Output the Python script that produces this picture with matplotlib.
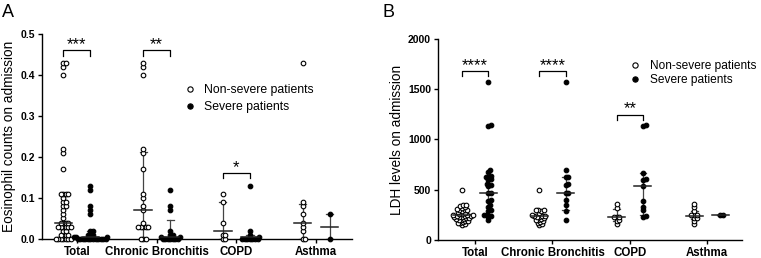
import numpy as np
import matplotlib.pyplot as plt
from matplotlib.lines import Line2D

plt.rcParams['font.family'] = ['Liberation Sans', 'DejaVu Sans']

categories = ['Total', 'Chronic Bronchitis', 'COPD', 'Asthma']

# Eosinophil counts (panel A)
eos_nonsevere = [
    [0.43, 0.43, 0.42, 0.40, 0.22, 0.21, 0.17, 0.11, 0.11, 0.11, 0.11, 0.10, 0.09, 0.09,
     0.08, 0.08, 0.07, 0.06, 0.05, 0.04, 0.04, 0.04, 0.04, 0.03, 0.03, 0.03, 0.03, 0.03,
     0.03, 0.02, 0.02, 0.01, 0.01, 0.01, 0.01, 0, 0, 0, 0, 0, 0, 0],
    [0.43, 0.42, 0.40, 0.22, 0.21, 0.17, 0.11, 0.10, 0.08, 0.07, 0.04, 0.03, 0.03, 0.03,
     0.03, 0.03, 0, 0, 0],
    [0.11, 0.09, 0.04, 0.01, 0.01, 0, 0],
    [0.43, 0.09, 0.08, 0.06, 0.04, 0.03, 0.02, 0, 0],
]
eos_severe = [
    [0.13, 0.12, 0.08, 0.07, 0.06, 0.02, 0.02, 0.01, 0.01, 0.01, 0.005, 0.005, 0.005,
     0, 0, 0, 0, 0, 0, 0, 0, 0, 0, 0, 0],
    [0.12, 0.08, 0.07, 0.02, 0.01, 0.01, 0.005, 0.005, 0, 0, 0, 0, 0, 0, 0],
    [0.13, 0.02, 0.01, 0.005, 0, 0, 0, 0, 0, 0, 0],
    [0.06, 0],
]
eos_med_ns = [0.04, 0.07, 0.02, 0.04]
eos_q1_ns = [0, 0, 0, 0]
eos_q3_ns = [0.11, 0.213, 0.09, 0.085]
eos_med_s = [0.005, 0.005, 0.005, 0.03]
eos_q1_s = [0, 0, 0, 0]
eos_q3_s = [0.02, 0.045, 0.01, 0.06]

# LDH levels (panel B)
ldh_nonsevere = [
    [500, 350, 350, 340, 330, 320, 310, 300, 300, 300, 290, 280, 270, 260, 260, 250, 250,
     250, 240, 240, 240, 230, 230, 230, 220, 220, 210, 210, 200, 200, 190, 190, 180, 170,
     170, 160, 150],
    [500, 300, 300, 300, 290, 270, 250, 240, 240, 240, 230, 230, 220, 210, 200, 200, 190,
     180, 170, 160, 150],
    [358, 321, 232, 232, 232, 195, 190, 160],
    [358, 325, 292, 249, 249, 249, 216, 216, 192, 159],
]
ldh_severe = [
    [1570, 1140, 1130, 700, 680, 640, 630, 630, 610, 600, 560, 550, 540, 470, 470, 400,
     390, 350, 330, 300, 290, 250, 250, 240, 230, 195],
    [1570, 700, 630, 630, 560, 550, 470, 470, 400, 350, 290, 195],
    [1140, 1130, 670, 610, 600, 540, 390, 330, 300, 240, 230],
    [250, 250],
]
ldh_med_ns = [245, 240, 232, 240]
ldh_q1_ns = [200, 200, 190, 210]
ldh_q3_ns = [300, 280, 310, 290]
ldh_med_s = [470, 470, 540, 250]
ldh_q1_s = [260, 300, 250, 250]
ldh_q3_s = [620, 630, 670, 250]

# significance brackets: (category index, height, label)
eos_sig = [(0, 0.46, '***'), (1, 0.46, '**'), (2, 0.16, '*')]
ldh_sig = [(0, 1680, '****'), (1, 1680, '****'), (2, 1245, '**')]


def swarm(vals, center, xpx, ypx, d=3.4, overlap=0.7):
    # simple beeswarm in pixel space, offsets searched on a fine grid
    placed = []
    xs, ys = [], []
    step = d / 4
    for v in sorted(vals):
        yp = v * ypx
        k = 0
        while True:
            off = ((k + 1) // 2) * step * (1 if k % 2 else -1)
            if all((off - px) ** 2 + (yp - py) ** 2 >= (overlap * d) ** 2
                   for px, py in placed):
                break
            k += 1
        placed.append((off, yp))
        xs.append(center + off / xpx)
        ys.append(v)
    return xs, ys


def panel(ax, ns, sv, mns, q1ns, q3ns, ms, q1s, q3s, sig, ylim, yticks, ylabel, ytl,
          xpx, ypx):
    off = 0.17
    pos = np.arange(1, len(categories) + 1)
    for i, p in enumerate(pos):
        for vals, med, q1, q3, dx, face in [(ns[i], mns[i], q1ns[i], q3ns[i], -off, 'white'),
                                            (sv[i], ms[i], q1s[i], q3s[i], off, 'black')]:
            c = p + dx
            x, y = swarm(vals, c, xpx, ypx)
            ax.scatter(x, y, s=11, facecolor=face, edgecolor='black', linewidth=0.8,
                       zorder=3, clip_on=False)
            ax.plot([c - 0.11, c + 0.11], [med, med], color='#222222', lw=1.1, zorder=4)
            ax.plot([c, c], [q1, q3], color='#444444', lw=0.9, zorder=2)
            for q in (q1, q3):
                ax.plot([c - 0.045, c + 0.045], [q, q], color='#444444', lw=0.9, zorder=2)
    h = ylim[1]
    for i, yb, lab in sig:
        x0, x1 = pos[i] - off, pos[i] + off
        d = 0.025 * h
        ax.plot([x0, x0, x1, x1], [yb - d, yb, yb, yb - d], color='black', lw=0.9)
        ax.text((x0 + x1) / 2, yb - 0.008 * h, lab, ha='center', va='bottom', fontsize=12)
    ax.set_ylim(*ylim)
    ax.set_yticks(yticks)
    ax.set_yticklabels(ytl, fontsize=7.5, fontweight='bold')
    ax.set_xticks(pos)
    ax.set_xticklabels(categories, fontsize=8.3, fontweight='bold')
    ax.set_ylabel(ylabel, fontsize=9.8, labelpad=3)
    for s in ('top', 'right'):
        ax.spines[s].set_visible(False)
    for s in ('left', 'bottom'):
        ax.spines[s].set_linewidth(1.0)
    ax.tick_params(axis='both', length=3, width=1.0, pad=2)


fig = plt.figure(figsize=(7.61, 2.58), dpi=100)
axA = fig.add_axes([0.055, 0.074, 0.4075, 0.794])
axB = fig.add_axes([0.5756, 0.070, 0.3994, 0.779])

panel(axA, eos_nonsevere, eos_severe, eos_med_ns, eos_q1_ns, eos_q3_ns,
      eos_med_s, eos_q1_s, eos_q3_s, eos_sig, (0, 0.5),
      [0, 0.1, 0.2, 0.3, 0.4, 0.5], 'Eosinophil counts on admission',
      ['0.0', '0.1', '0.2', '0.3', '0.4', '0.5'], 80, 205 / 0.5)
axA.set_xlim(0.56, 4.45)

panel(axB, ldh_nonsevere, ldh_severe, ldh_med_ns, ldh_q1_ns, ldh_q3_ns,
      ldh_med_s, ldh_q1_s, ldh_q3_s, ldh_sig, (0, 2000),
      [0, 500, 1000, 1500, 2000], 'LDH levels on admission',
      ['0', '500', '1000', '1500', '2000'], 77, 201 / 2000)
axB.set_xlim(0.52, 4.45)

handles = [Line2D([], [], ls='', marker='o', ms=3.8, mfc='white', mec='black', mew=0.8),
           Line2D([], [], ls='', marker='o', ms=3.8, mfc='black', mec='black', mew=0.8)]
labels = ['Non-severe patients', 'Severe patients']
axA.legend(handles, labels, loc='upper left', bbox_to_anchor=(0.42, 0.81), frameon=False,
           fontsize=8.8, handletextpad=0.5, labelspacing=0.45, handlelength=1.2)
axB.legend(handles, labels, loc='upper left', bbox_to_anchor=(0.59, 0.95), frameon=False,
           fontsize=8.6, handletextpad=0.6, labelspacing=0.2, handlelength=1.2)

fig.text(0.003, 0.985, 'A', fontsize=13, va='top')
fig.text(0.503, 0.985, 'B', fontsize=13, va='top')

fig.savefig('out.png', dpi=100)
